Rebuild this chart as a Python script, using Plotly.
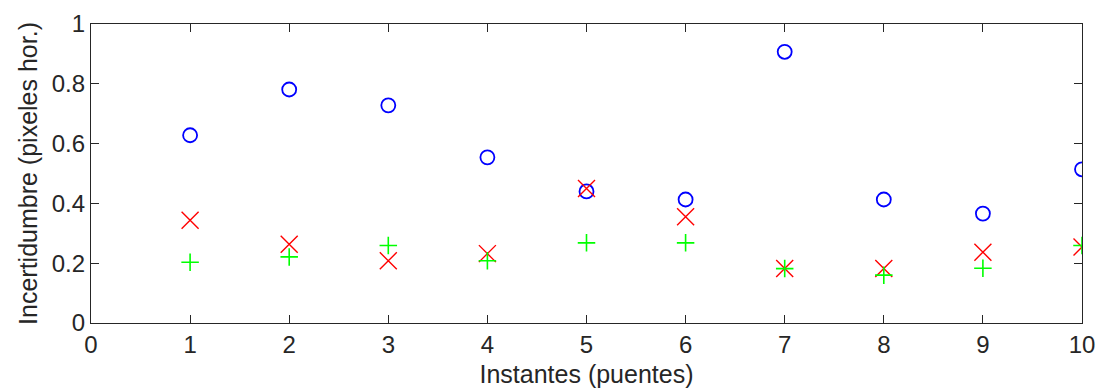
import plotly.graph_objects as go

# Bridge instants and horizontal uncertainty (pixels) for three estimates
instantes = [1, 2, 3, 4, 5, 6, 7, 8, 9, 10]
serie_circulos = [0.628, 0.781, 0.728, 0.554, 0.440, 0.413, 0.907, 0.413, 0.366, 0.514]
serie_cruces = [0.344, 0.263, 0.208, 0.232, 0.450, 0.355, 0.182, 0.182, 0.237, 0.254]
serie_mas = [0.203, 0.221, 0.259, 0.208, 0.268, 0.268, 0.182, 0.160, 0.183, 0.259]

x_ticks = [0, 1, 2, 3, 4, 5, 6, 7, 8, 9, 10]
y_ticks = [0, 0.2, 0.4, 0.6, 0.8, 1]
y_ticklabels = ["0", "0.2", "0.4", "0.6", "0.8", "1"]

FONT = "Liberation Sans, Arial, sans-serif"
AXIS_COLOR = "#262626"

fig = go.Figure()
fig.add_trace(go.Scatter(
    x=instantes, y=serie_circulos, mode="markers",
    marker=dict(symbol="circle-open", size=14, color="#0000ff",
                line=dict(width=1.8, color="#0000ff")),
))
fig.add_trace(go.Scatter(
    x=instantes, y=serie_cruces, mode="markers",
    marker=dict(symbol="x-thin-open", size=17, color="#ff0000",
                line=dict(width=1.4, color="#ff0000")),
))
fig.add_trace(go.Scatter(
    x=instantes, y=serie_mas, mode="markers",
    marker=dict(symbol="cross-thin-open", size=12.5, color="#00ff00",
                line=dict(width=1.6, color="#00ff00")),
))

axis_common = dict(
    showline=True, linecolor=AXIS_COLOR, linewidth=1.2, mirror="ticks",
    ticks="inside", ticklen=8, tickwidth=1.2, tickcolor=AXIS_COLOR,
    showgrid=False, zeroline=False, automargin=False,
    tickfont=dict(family=FONT, size=24, color="#262626"),
)

fig.update_xaxes(
    range=[0, 10], tickvals=x_ticks, ticktext=[str(v) for v in x_ticks],
    title=dict(text="Instantes (puentes)", standoff=8,
               font=dict(family=FONT, size=25, color="#262626")),
    **axis_common,
)
fig.update_yaxes(
    range=[0, 1], tickvals=y_ticks, ticktext=y_ticklabels,
    title=dict(text="Incertidumbre (pixeles hor.)", standoff=6,
               font=dict(family=FONT, size=25, color="#262626")),
    **axis_common,
)

fig.update_layout(
    width=1099, height=392,
    margin=dict(l=91, r=17, t=24, b=69),
    paper_bgcolor="white", plot_bgcolor="white",
    showlegend=False,
)

fig.write_html("out.html")
